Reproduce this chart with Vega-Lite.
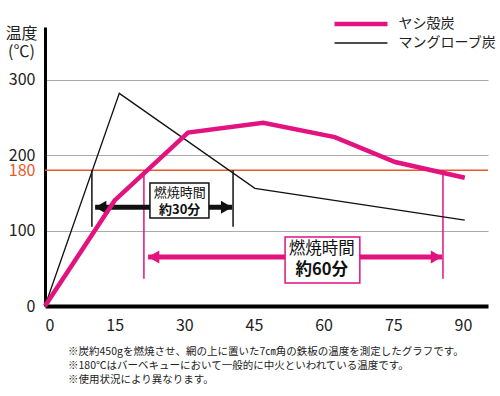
{
  "$schema": "https://vega.github.io/schema/vega-lite/v6.json",
  "width": 443,
  "height": 279,
  "autosize": {"type": "none"},
  "padding": {"left": 45, "top": 27, "right": 12, "bottom": 90},
  "background": "white",
  "config": {
    "font": "Noto Sans CJK JP",
    "view": {"stroke": null}
  },
  "title": {
    "text": ["※炭約450gを燃焼させ、網の上に置いた7㎝角の鉄板の温度を測定したグラフです。", "※180℃はバーベキューにおいて一般的に中火といわれている温度です。", "※使用状況により異なります。"],
    "orient": "bottom",
    "anchor": "start",
    "frame": "group",
    "dx": 23,
    "offset": 14,
    "fontSize": 10.5,
    "fontWeight": "normal",
    "lineHeight": 14,
    "color": "#222"
  },
  "datasets": {
    "series": [
      {"time": 0, "temp": 0, "charcoal": "マングローブ炭"},
      {"time": 16, "temp": 282, "charcoal": "マングローブ炭"},
      {"time": 45.2, "temp": 156, "charcoal": "マングローブ炭"},
      {"time": 90.4, "temp": 114, "charcoal": "マングローブ炭"},
      {"time": 0, "temp": 0, "charcoal": "ヤシ殻炭"},
      {"time": 15, "temp": 140, "charcoal": "ヤシ殻炭"},
      {"time": 30.8, "temp": 230, "charcoal": "ヤシ殻炭"},
      {"time": 47, "temp": 243, "charcoal": "ヤシ殻炭"},
      {"time": 62.4, "temp": 224, "charcoal": "ヤシ殻炭"},
      {"time": 75.4, "temp": 191, "charcoal": "ヤシ殻炭"},
      {"time": 90.4, "temp": 170, "charcoal": "ヤシ殻炭"}
    ],
    "vlines": [
      {"time": 10.1, "top": 180, "bottom": 105, "group": "30"},
      {"time": 40.5, "top": 180, "bottom": 105, "group": "30"},
      {"time": 21.3, "top": 180, "bottom": 36, "group": "60"},
      {"time": 85.7, "top": 180, "bottom": 36, "group": "60"}
    ],
    "arrows": [
      {"start": 10.8, "end": 40.3, "level": 131, "group": "30"},
      {"start": 22.2, "end": 85.5, "level": 65, "group": "60"}
    ],
    "heads": [
      {"time": 12.0, "level": 131, "dir": "left", "group": "30"},
      {"time": 39.1, "level": 131, "dir": "right", "group": "30"},
      {"time": 23.4, "level": 65, "dir": "left", "group": "60"},
      {"time": 84.3, "level": 65, "dir": "right", "group": "60"}
    ],
    "boxes": [
      {"x1": 22.6, "x2": 35.3, "y1": 116.7, "y2": 163, "group": "30"},
      {"x1": 51.7, "x2": 67.8, "y1": 30.5, "y2": 91.5, "group": "60"}
    ],
    "labels": [
      {"time": 29, "level": 150, "text": "燃焼時間", "line": 1, "group": "30"},
      {"time": 29, "level": 127, "text": "約30分", "line": 2, "group": "30"},
      {"time": 59.6, "level": 75.6, "text": "燃焼時間", "line": 1, "group": "60"},
      {"time": 59.6, "level": 47.7, "text": "約60分", "line": 2, "group": "60"}
    ],
    "ref": [{"temp": 180}]
  },
  "layer": [
    {
      "data": {"name": "ref"},
      "mark": {"type": "rule", "color": "#e9582b", "strokeWidth": 1.5},
      "encoding": {
        "y": {
          "field": "temp",
          "type": "quantitative",
          "scale": {"domain": [0, 370], "nice": false},
          "axis": {
            "values": [0, 100, 180, 200, 300],
            "labelOverlap": false,
            "title": ["温度", "(℃)"],
            "titleAngle": 0,
            "titleAlign": "center",
            "titleBaseline": "middle",
            "titleX": -24,
            "titleY": 6,
            "titleFontSize": 16,
            "titleFontWeight": "normal",
            "titleLineHeight": 18,
            "titleColor": "#222",
            "labelFontSize": 16,
            "labelPadding": 10,
            "labelColor": {"condition": {"test": "datum.value == 180", "value": "#e9582b"}, "value": "#222"},
            "ticks": false,
            "domainColor": "#000",
            "domainWidth": 3,
            "grid": true,
            "gridColor": {"condition": {"test": "datum.value == 180 || datum.value == 0", "value": "transparent"}, "value": "#aaaaaa"},
            "gridWidth": 1
          }
        }
      }
    },
    {
      "data": {"name": "vlines"},
      "mark": {"type": "rule", "strokeWidth": 1.5},
      "encoding": {
        "x": {"field": "time", "type": "quantitative"},
        "y": {"field": "top", "type": "quantitative"},
        "y2": {"field": "bottom"},
        "stroke": {"field": "group", "type": "nominal", "scale": {"domain": ["30", "60"], "range": ["#111111", "#e2127e"]}, "legend": null}
      }
    },
    {
      "data": {"name": "arrows"},
      "mark": {"type": "rule", "strokeWidth": 5},
      "encoding": {
        "x": {"field": "start", "type": "quantitative"},
        "x2": {"field": "end"},
        "y": {"field": "level", "type": "quantitative"},
        "stroke": {"field": "group", "type": "nominal", "scale": {"domain": ["30", "60"], "range": ["#111111", "#e2127e"]}, "legend": null}
      }
    },
    {
      "data": {"name": "heads"},
      "mark": {"type": "point", "filled": true, "size": 170, "opacity": 1},
      "encoding": {
        "x": {"field": "time", "type": "quantitative"},
        "y": {"field": "level", "type": "quantitative"},
        "shape": {"field": "dir", "type": "nominal", "scale": {"domain": ["left", "right"], "range": ["triangle-left", "triangle-right"]}, "legend": null},
        "fill": {"field": "group", "type": "nominal", "scale": {"domain": ["30", "60"], "range": ["#111111", "#e2127e"]}, "legend": null}
      }
    },
    {
      "data": {"name": "boxes"},
      "mark": {"type": "rect", "fill": "white", "strokeWidth": 1.5},
      "encoding": {
        "x": {"field": "x1", "type": "quantitative"},
        "x2": {"field": "x2"},
        "y": {"field": "y1", "type": "quantitative"},
        "y2": {"field": "y2"},
        "stroke": {"field": "group", "type": "nominal", "scale": {"domain": ["30", "60"], "range": ["#111111", "#e2127e"]}, "legend": null}
      }
    },
    {
      "data": {"name": "labels"},
      "transform": [{"filter": "datum.line == 1"}],
      "mark": {"type": "text", "color": "#111", "fontWeight": "normal"},
      "encoding": {
        "x": {"field": "time", "type": "quantitative"},
        "y": {"field": "level", "type": "quantitative"},
        "text": {"field": "text"},
        "size": {"field": "group", "type": "nominal", "scale": {"domain": ["30", "60"], "range": [13, 16.5]}, "legend": null}
      }
    },
    {
      "data": {"name": "labels"},
      "transform": [{"filter": "datum.line == 2"}],
      "mark": {"type": "text", "color": "#111", "fontWeight": "bold"},
      "encoding": {
        "x": {"field": "time", "type": "quantitative"},
        "y": {"field": "level", "type": "quantitative"},
        "text": {"field": "text"},
        "size": {"field": "group", "type": "nominal", "scale": {"domain": ["30", "60"], "range": [13, 16.5]}, "legend": null}
      }
    },
    {
      "data": {"name": "series"},
      "mark": {"type": "line", "strokeJoin": "miter"},
      "encoding": {
        "x": {
          "field": "time",
          "type": "quantitative",
          "scale": {"domain": [0, 95.4], "nice": false},
          "axis": {
            "values": [0, 15, 30, 45, 60, 75, 90],
            "title": null,
            "grid": false,
            "ticks": false,
            "labelFontSize": 16,
            "labelPadding": 11,
            "labelColor": "#222",
            "domainColor": "#000",
            "domainWidth": 4
          }
        },
        "y": {"field": "temp", "type": "quantitative"},
        "color": {
          "field": "charcoal",
          "type": "nominal",
          "scale": {"domain": ["ヤシ殻炭", "マングローブ炭"], "range": ["#e2127e", "#111111"]},
          "legend": {
            "title": null,
            "orient": "none",
            "legendX": 308,
            "legendY": -11,
            "symbolType": "M-5,0H5",
            "symbolSize": 112,
            "labelFontSize": 14,
            "labelColor": "#222",
            "labelOffset": 29.5,
            "rowPadding": 3,
            "padding": 0
          }
        },
        "strokeWidth": {
          "field": "charcoal",
          "type": "nominal",
          "scale": {"domain": ["ヤシ殻炭", "マングローブ炭"], "range": [4.5, 1.3]},
          "legend": {
            "title": null,
            "orient": "none",
            "legendX": 308,
            "legendY": -11,
            "symbolType": "M-5,0H5",
            "symbolSize": 112,
            "labelFontSize": 14,
            "labelColor": "#222",
            "labelOffset": 29.5,
            "rowPadding": 3,
            "padding": 0
          }
        }
      }
    }
  ]
}
